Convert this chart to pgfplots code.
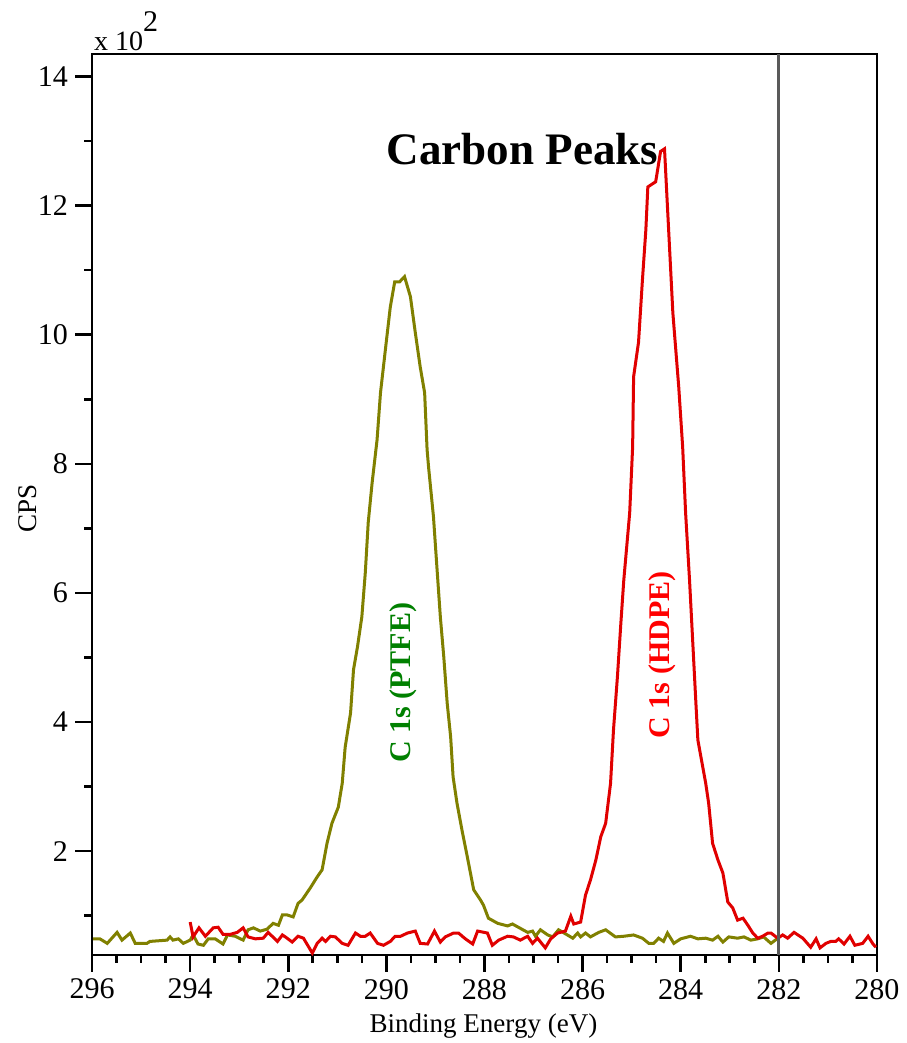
\documentclass[border=0pt]{standalone}
\usepackage{fontspec}
\setmainfont{Liberation Serif}
\usepackage{pgfplots}
\pgfplotsset{compat=1.18}
\definecolor{olivec}{HTML}{808000}
\definecolor{redc}{HTML}{E00000}
\definecolor{labgreen}{HTML}{008000}
\definecolor{labred}{HTML}{FF0000}
\definecolor{vgray}{HTML}{5A5A5A}
\begin{document}
\begin{tikzpicture}
\begin{axis}[
  scale only axis, width=392pt, height=450pt,
  x dir=reverse, xmin=280, xmax=296, ymin=0.39, ymax=14.35,
  xtick={280,282,...,296}, minor xtick={280.5,281,...,295.5},
  ytick={2,4,...,14}, minor ytick={1,3,...,13},
  xtick pos=bottom, ytick pos=left,
  tick align=outside,
  major tick length=8.5pt, minor tick length=3.8pt,
  tick style={line width=1.3pt, black},
  axis line style={line width=1.3pt},
  /pgf/number format/assume math mode=true,
  ticklabel style={font=\fontsize{15}{17}\selectfont},
  clip=false,
  name=ax,
]
\addplot[olivec, line width=1.5pt] coordinates {
(295.98,0.64) (295.84,0.64) (295.69,0.57) (295.49,0.74) (295.39,0.62) (295.22,0.73) (295.12,0.57)
(294.88,0.57) (294.82,0.60) (294.47,0.62) (294.41,0.67) (294.35,0.62) (294.24,0.64) (294.14,0.57)
(294.00,0.62) (293.94,0.70) (293.84,0.56) (293.73,0.54) (293.63,0.64) (293.49,0.64) (293.33,0.56)
(293.24,0.70) (293.08,0.68) (292.92,0.62) (292.82,0.78) (292.71,0.81) (292.57,0.76) (292.43,0.79)
(292.31,0.88) (292.20,0.85) (292.12,1.01) (292.02,1.01) (291.90,0.98) (291.80,1.19) (291.72,1.24)
(291.55,1.43) (291.41,1.60) (291.31,1.71) (291.21,2.12) (291.11,2.43) (290.98,2.68) (290.90,3.05)
(290.84,3.61) (290.73,4.14) (290.67,4.81) (290.59,5.16) (290.50,5.63) (290.43,6.31) (290.37,7.09)
(290.29,7.71) (290.19,8.37) (290.12,9.10) (290.02,9.77) (289.92,10.43) (289.83,10.82) (289.73,10.82)
(289.63,10.90) (289.51,10.59) (289.41,10.03) (289.31,9.50) (289.22,9.10) (289.17,8.22) (289.14,7.95)
(289.04,7.18) (288.97,6.40) (288.90,5.63) (288.83,5.01) (288.76,4.29) (288.69,3.77) (288.64,3.15)
(288.56,2.74) (288.46,2.33) (288.35,1.91) (288.22,1.40) (288.08,1.24) (288.02,1.16) (287.92,0.96)
(287.73,0.88) (287.53,0.84) (287.43,0.87) (287.12,0.74) (287.02,0.76) (286.96,0.68) (286.86,0.78)
(286.71,0.70) (286.61,0.67) (286.49,0.78) (286.31,0.70) (286.20,0.65) (286.10,0.73) (286.04,0.67)
(285.94,0.73) (285.84,0.67) (285.67,0.74) (285.53,0.78) (285.33,0.67) (285.16,0.68) (284.96,0.70)
(284.78,0.65) (284.65,0.57) (284.55,0.57) (284.45,0.65) (284.35,0.60) (284.27,0.73) (284.14,0.57)
(284.00,0.64) (283.80,0.68) (283.65,0.64) (283.49,0.65) (283.35,0.62) (283.24,0.68) (283.14,0.59)
(283.02,0.67) (282.84,0.65) (282.71,0.67) (282.57,0.62) (282.43,0.64) (282.31,0.67) (282.16,0.57)
(282.02,0.65)
};
\addplot[redc, line width=1.5pt] coordinates {
(294.00,0.90) (293.94,0.67) (293.82,0.81) (293.69,0.68) (293.53,0.81) (293.43,0.82) (293.33,0.71)
(293.18,0.71) (293.04,0.74) (292.92,0.81) (292.82,0.67) (292.67,0.64) (292.51,0.65) (292.41,0.74)
(292.22,0.60) (292.12,0.70) (292.06,0.67) (291.92,0.59) (291.80,0.68) (291.69,0.65) (291.51,0.42)
(291.41,0.57) (291.31,0.65) (291.24,0.60) (291.14,0.68) (291.04,0.67) (290.90,0.57) (290.78,0.54)
(290.63,0.73) (290.53,0.68) (290.43,0.68) (290.33,0.73) (290.18,0.57) (290.06,0.54) (289.92,0.60)
(289.82,0.68) (289.71,0.68) (289.57,0.73) (289.41,0.76) (289.31,0.57) (289.16,0.56) (289.02,0.76)
(288.90,0.59) (288.80,0.67) (288.63,0.73) (288.53,0.73) (288.39,0.64) (288.24,0.56) (288.14,0.76)
(287.94,0.73) (287.84,0.54) (287.71,0.62) (287.53,0.68) (287.41,0.67) (287.27,0.62) (287.12,0.68)
(287.02,0.57) (286.92,0.65) (286.76,0.50) (286.65,0.64) (286.51,0.73) (286.35,0.76) (286.24,0.99)
(286.18,0.87) (286.04,0.90) (285.94,1.32) (285.84,1.55) (285.73,1.86) (285.63,2.22) (285.53,2.43)
(285.43,3.05) (285.37,3.88) (285.29,4.70) (285.22,5.53) (285.16,6.20) (285.04,7.24) (284.98,8.26)
(284.96,9.35) (284.86,9.88) (284.78,10.85) (284.71,11.63) (284.67,12.29) (284.51,12.37) (284.41,12.84)
(284.33,12.88) (284.16,10.34) (284.04,9.19) (283.96,8.26) (283.90,7.24) (283.82,6.20) (283.76,5.32)
(283.69,4.29) (283.65,3.72) (283.49,3.05) (283.43,2.74) (283.35,2.12) (283.24,1.86) (283.14,1.66)
(283.04,1.21) (282.94,1.12) (282.84,0.93) (282.73,0.96) (282.63,0.85) (282.53,0.73) (282.43,0.65)
(282.33,0.68) (282.22,0.73) (282.16,0.73) (282.02,0.65) (281.92,0.70) (281.82,0.65) (281.69,0.74)
(281.51,0.65) (281.35,0.51) (281.24,0.64) (281.16,0.50) (281.04,0.57) (280.94,0.60) (280.84,0.60)
(280.78,0.64) (280.67,0.56) (280.55,0.68) (280.45,0.54) (280.29,0.57) (280.18,0.68) (280.08,0.56)
(280.02,0.51)
};
\addplot[vgray, line width=1.4pt] coordinates {(282,0.39) (282,14.35)};
\node[anchor=base west, font=\fontsize{14}{16}\selectfont, inner sep=0pt] at (rel axis cs:0.002,1.0044) {x 10\raisebox{9pt}{\fontsize{15}{17}\selectfont 2}};
\node[anchor=base, font=\bfseries\fontsize{22.5}{26}\selectfont, inner sep=0pt] at (rel axis cs:0.5485,0.8768) {Carbon Peaks};
\node[rotate=90, text=labgreen, font=\bfseries\fontsize{15}{17}\selectfont, inner sep=0pt] at (rel axis cs:0.3967,0.302) {C 1s (PTFE)};
\node[rotate=90, text=labred, font=\bfseries\fontsize{15}{17}\selectfont, inner sep=0pt] at (rel axis cs:0.727,0.333) {C 1s (HDPE)};
\node[rotate=90, font=\fontsize{13.5}{15}\selectfont, inner sep=0pt] at (rel axis cs:-0.0816,0.496) {CPS};
\node[font=\fontsize{13.5}{15}\selectfont, inner sep=0pt] at (rel axis cs:0.4987,-0.0788) {Binding Energy (eV)};
\coordinate (bbl) at (rel axis cs:-0.1173,-0.0977);
\coordinate (btr) at (rel axis cs:1.0293,1.0599);
\end{axis}
\path (bbl) rectangle (btr);
\end{tikzpicture}
\end{document}
